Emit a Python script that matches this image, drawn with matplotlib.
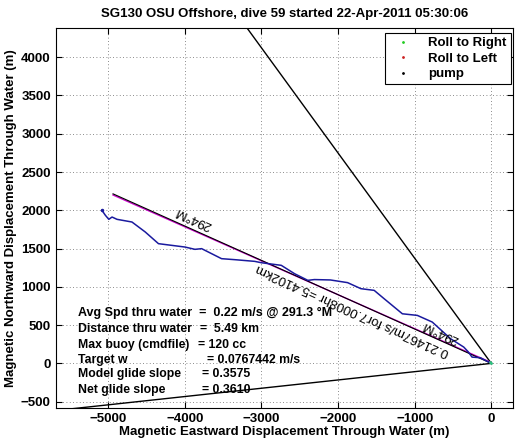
import numpy as np
import matplotlib
matplotlib.use('Agg')
import matplotlib.pyplot as plt

plt.rcParams['font.family'] = ['Liberation Sans', 'DejaVu Sans']

# glider track through water (m)
track_x = [-5080, -5035, -4990, -4948, -4883, -4688, -4515, -4342, -3996, -3866,
           -3779, -3519, -3346, -3087, -2999, -2740, -2567, -2394, -2308, -2100,
           -1875, -1701, -1528, -1398, -1160, -965, -770, -532, -359, -300,
           -251, -143, 0]
track_y = [2000, 1935, 1882, 1912, 1882, 1847, 1717, 1564, 1520, 1490,
           1499, 1368, 1355, 1333, 1315, 1281, 1172, 1085, 1095, 1090,
           1055, 976, 954, 845, 648, 627, 540, 323, 213, 150,
           82, 74, 0]

# straight-line displacement (294 deg M)
disp_x = [-4935, 0]
disp_y = [2215, 0]
model_x = [-4935, 0]
model_y = [2200, 10]

# bounding headings from origin
bound1_x = [0, -4400]
bound1_y = [0, 6050]
bound2_x = [0, -6000]
bound2_y = [0, -650]

stats_labels = ['Distance thru water', 'Max buoy (cmdfile)', 'Target w',
                'Model glide slope', 'Net glide slope']
stats_values = ['=  5.49 km', '= 120 cc', '= 0.0767442 m/s', '= 0.3575', '= 0.3610']
avg_line = 'Avg Spd thru water  =  0.22 m/s @ 291.3 \u00b0M'

fig = plt.figure(figsize=(5.22, 4.42), dpi=100)
ax = fig.add_axes([0.1067, 0.0776, 0.876, 0.8584])

ax.plot(bound1_x, bound1_y, color='black', lw=1.0)
ax.plot(bound2_x, bound2_y, color='black', lw=1.0)
ax.plot(model_x, model_y, color='#cc00cc', lw=1.0)
ax.plot(disp_x, disp_y, color='black', lw=0.8)
ax.plot(track_x, track_y, color='#1a1a9e', lw=1.1)
ax.plot(track_x[0], track_y[0], '.', color='#1a1a9e', ms=3)
ax.plot([0, -20], [0, 15], '.', color='#2ec27e', ms=2)

# legend entries
h1, = ax.plot([], [], '.', color='#22cc22', ms=2, label='Roll to Right')
h2, = ax.plot([], [], '.', color='#cc2222', ms=2, label='Roll to Left')
h3, = ax.plot([], [], '.', color='black', ms=2, label='pump')
leg = ax.legend(handles=[h1, h2, h3], loc='upper right', fancybox=False,
                prop={'weight': 'bold', 'size': 9.5}, handlelength=2.2,
                borderpad=0.3, labelspacing=0.25, handletextpad=0.8,
                bbox_to_anchor=(0.995, 0.987), borderaxespad=0.0)
leg.get_frame().set_edgecolor('black')
leg.get_frame().set_linewidth(0.8)
leg.get_frame().set_alpha(1)

ax.set_xlim(-5683, 283)
ax.set_ylim(-579, 4378)
ax.set_xticks(np.arange(-5000, 1, 1000))
ax.set_yticks(np.arange(-500, 4001, 500))
ax.grid(True, linestyle=(0, (1, 3)), color='#666666', lw=0.6)
ax.tick_params(direction='in', top=True, right=True, length=4, labelsize=9.5)
for lbl in ax.get_xticklabels() + ax.get_yticklabels():
    lbl.set_fontweight('bold')

ax.set_title('SG130 OSU Offshore, dive 59 started 22-Apr-2011 05:30:06',
             fontsize=9.5, fontweight='bold', pad=8)
ax.set_xlabel('Magnetic Eastward Displacement Through Water (m)',
              fontsize=9.5, fontweight='bold', labelpad=1)
ax.set_ylabel('Magnetic Northward Displacement Through Water (m)',
              fontsize=9.5, fontweight='bold', labelpad=3)

# heading annotations along the displacement line
ax.text(-3890, 1900, '294\u00b0M', rotation=155.9, ha='center', va='center',
        fontsize=9.5, rotation_mode='anchor')
ax.text(-666, 409, '294\u00b0M', rotation=155.9, ha='center', va='center',
        fontsize=9.5, rotation_mode='anchor')
ax.text(-1808, 706, '0.21467m/s for7.0008hr =5.4102km', rotation=155.9,
        ha='center', va='center', fontsize=9.5, rotation_mode='anchor')

# stats text block
ax.text(-5392, 656, avg_line, fontsize=9, fontweight='bold', va='center')
rows_y = [448, 239, 43, -140, -347]
vals_x = [-3800, -3825, -3708, -3773, -3773]
for lab, val, yy, xx in zip(stats_labels, stats_values, rows_y, vals_x):
    ax.text(-5392, yy, lab, fontsize=8.8, fontweight='bold', va='center')
    ax.text(xx, yy, val, fontsize=8.8, fontweight='bold', va='center')

fig.savefig('out.png', dpi=100)
